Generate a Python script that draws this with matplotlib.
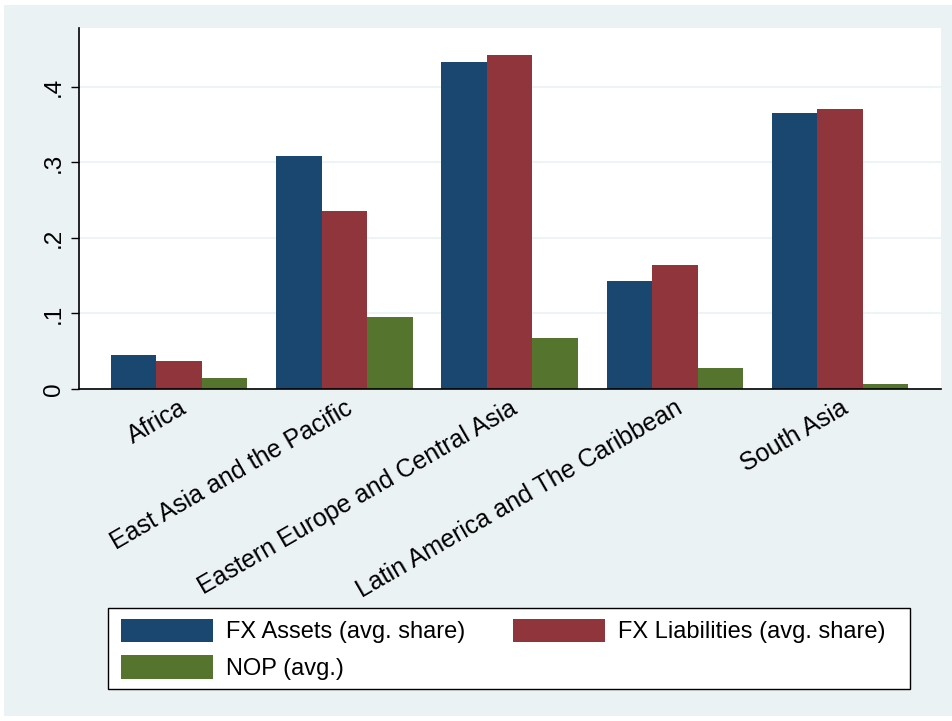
import matplotlib.pyplot as plt
import numpy as np
from matplotlib.patches import Rectangle

plt.rcParams['font.family'] = ['Liberation Sans', 'DejaVu Sans']

regions = ['Africa', 'East Asia and the Pacific', 'Eastern Europe and Central Asia',
           'Latin America and The Caribbean', 'South Asia']
fx_assets = [0.045, 0.309, 0.433, 0.143, 0.365]
fx_liab = [0.037, 0.236, 0.442, 0.164, 0.371]
nop = [0.0146, 0.095, 0.068, 0.028, 0.0066]
yticks = [0, 0.1, 0.2, 0.3, 0.4]
ylabels = ['0', '.1', '.2', '.3', '.4']

bg = '#EAF2F3'
c_blue = '#1A476F'
c_red = '#90353B'
c_green = '#55752F'

fig = plt.figure(figsize=(9.53, 7.21), dpi=100, facecolor='white')
fig.patches.append(Rectangle((4 / 953, 5 / 721), 949 / 953, 711 / 721,
                             transform=fig.transFigure, facecolor=bg,
                             edgecolor='none', zorder=-10))
# legend box drawn separately, stata leaves empty room on the right
fig.patches.append(Rectangle((108 / 953, 1 - 689 / 721), (910 - 108) / 953, 81 / 721,
                             transform=fig.transFigure, facecolor='white',
                             edgecolor='black', linewidth=1.0, zorder=-5))

ax = fig.add_axes([79 / 953, 1 - 389 / 721, (941 - 79) / 953, (389 - 28) / 721])
ax.set_facecolor('white')

x = np.arange(len(regions))
w = 0.275
b1 = ax.bar(x - w, fx_assets, w, color=c_blue, label='FX Assets (avg. share)')
b2 = ax.bar(x, fx_liab, w, color=c_red, label='FX Liabilities (avg. share)')
b3 = ax.bar(x + w, nop, w, color=c_green, label='NOP (avg.)')

ax.set_xlim(-0.606, 4.61)
ax.set_ylim(0, 0.478)
ax.set_yticks(yticks)
ax.set_yticklabels(ylabels, rotation=90, va='center', fontsize=17.5)
ax.grid(axis='y', color=bg, linewidth=1.2)
ax.set_axisbelow(True)
ax.tick_params(axis='y', length=6, width=1, pad=4)
ax.tick_params(axis='x', length=0, pad=5)
ax.set_xticks(x)
ax.set_xticklabels(regions, rotation=30, ha='right', rotation_mode='anchor', fontsize=18)

for s in ['top', 'right']:
    ax.spines[s].set_visible(False)
ax.spines['left'].set_linewidth(1.2)
ax.spines['bottom'].set_linewidth(1.2)

# stata fills legend row by row, matplotlib column by column
handles = [b1, b3, b2]
labels = [h.get_label() for h in handles]
leg = fig.legend(handles, labels, loc='upper left',
                 bbox_to_anchor=(110 / 953, 1 - 608 / 721),
                 ncol=2, fontsize=17, frameon=False, borderaxespad=0,
                 handlelength=3.9, handleheight=1.15, borderpad=0.45, labelspacing=0.5,
                 handletextpad=0.55, columnspacing=2.05)

fig.savefig('out.png', dpi=100, facecolor='white')
